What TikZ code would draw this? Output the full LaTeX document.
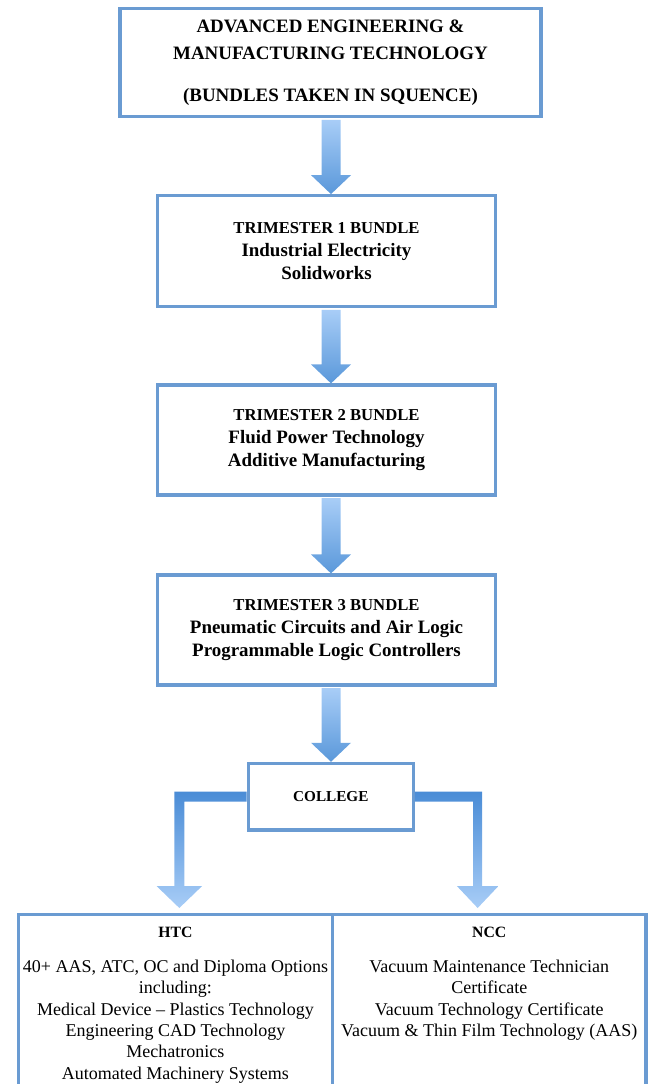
\documentclass[tikz,border=0pt]{standalone}
\usepackage{fontspec}
\setmainfont{Liberation Serif}
\usepackage{tikz}
\usetikzlibrary{calc}

\definecolor{boxline}{HTML}{6A9BD2}
\definecolor{arrlight}{HTML}{A8CDF7}
\definecolor{arrdark}{HTML}{5A98DA}
\definecolor{arrdeep}{HTML}{4A8CD6}

% heading size inside the bundle boxes
\newcommand{\hd}{\fontsize{12.5}{17.25}\selectfont}

% straight block arrow from one box down to the next
\newcommand{\downblk}[2]{%
  \coordinate (s) at (axis |- #1.south);
  \coordinate (e) at (axis |- #2.north);
  \shade[top color=arrlight, bottom color=arrdark]
    ($(s)+(-9.5,1.5)$) -- ($(s)+(9.5,1.5)$) -- ($(e)+(9.5,-19)$) -- ($(e)+(20,-19)$)
    -- (e) -- ($(e)+(-20,-19)$) -- ($(e)+(-9.5,-19)$) -- cycle;
}

\begin{document}
\begin{tikzpicture}[x=0.75pt, y=-0.75pt,
    box/.style={draw=boxline, line width=2.4pt, fill=white, align=center, inner sep=0pt,
      font=\bfseries\fontsize{14.2}{17.25}\selectfont},
    cell/.style={draw=boxline, line width=2.4pt, inner sep=0pt, minimum height=150pt},
    celltext/.style={align=center, inner sep=0pt, anchor=north,
      font=\fontsize{13.5}{16.05}\selectfont}]
                \useasboundingbox (0,0) rectangle (650,1084);
                \clip (0,0) rectangle (650,1084);
                \coordinate (axis) at (331,0);
                
                % Boxes
                \node[box, minimum width=315.75pt, minimum height=81.3pt,
                  font=\bfseries\fontsize{14.2}{20.25}\selectfont] (top) at (330.5,62.5)
                  {ADVANCED ENGINEERING \&\\MANUFACTURING TECHNOLOGY\\[11.25pt](BUNDLES TAKEN IN SQUENCE)};
                \node[box, minimum width=253.8pt, minimum height=83.25pt] (tri1) at (326.5,251.2)
                  {{\hd TRIMESTER 1 BUNDLE}\\Industrial Electricity\\Solidworks};
                \node[box, minimum width=253.8pt, minimum height=82.5pt] (tri2) at (326.5,440)
                  {{\hd TRIMESTER 2 BUNDLE}\\Fluid Power Technology\\Additive Manufacturing};
                \node[box, minimum width=253.8pt, minimum height=82.5pt] (tri3) at (326.5,630)
                  {{\hd TRIMESTER 3 BUNDLE}\\Pneumatic Circuits and Air Logic\\Programmable Logic Controllers};
                \node[box, minimum width=123.75pt, minimum height=50pt,
                  font=\bfseries\fontsize{11.4}{14}\selectfont] (coll) at (330.8,796.7) {COLLEGE};
                
                % Table at the bottom
                \node[cell, minimum width=235.7pt, anchor=north west] (htc) at (16.7,912.5) {};
                \node[cell, minimum width=235pt, anchor=north west] (ncc) at (331,912.5) {};
                
                % Arrows
                \downblk{top}{tri1}
                \downblk{tri1}{tri2}
                \downblk{tri2}{tri3}
                \downblk{tri3}{coll}
                
                % Branches to the colleges
                \coordinate (tipL) at ($(htc.north)+(3.9,-4.5)$);
                \coordinate (tipR) at ($(ncc.north)+(-11.6,-4.5)$);
                \shade[top color=arrdeep, bottom color=arrlight]
                  ($(coll.west)+(0,-5)$) -- ($(tipL |- coll.west)+(-5,-5)$) -- ($(tipL)+(-5,-22)$)
                  -- ($(tipL)+(-22.8,-22)$) -- (tipL) -- ($(tipL)+(22.8,-22)$) -- ($(tipL)+(5,-22)$)
                  -- ($(tipL |- coll.west)+(5,5)$) -- ($(coll.west)+(0,5)$) -- cycle;
                \shade[top color=arrdeep, bottom color=arrlight]
                  ($(coll.east)+(0,-5)$) -- ($(tipR |- coll.east)+(4.5,-5)$) -- ($(tipR)+(4.5,-22)$)
                  -- ($(tipR)+(20.8,-22)$) -- (tipR) -- ($(tipR)+(-20.8,-22)$) -- ($(tipR)+(-4.5,-22)$)
                  -- ($(tipR |- coll.east)+(-4.5,5)$) -- ($(coll.east)+(0,5)$) -- cycle;
                
                % Labels
                \node[celltext] (htctext) at ($(htc.north)+(0,14.3)$)
                  {{\bfseries\fontsize{11.8}{16.05}\selectfont HTC}\\[10pt]
                   40+ AAS, ATC, OC and Diploma Options\\including:\\
                   Medical Device \textendash\ Plastics Technology\\Engineering CAD Technology\\
                   Mechatronics\\Automated Machinery Systems};
                \node[celltext] (ncctext) at ($(ncc.north)+(0,14.3)$)
                  {{\bfseries\fontsize{11.8}{16.05}\selectfont NCC}\\[10pt]
                   Vacuum Maintenance Technician\\Certificate\\
                   Vacuum Technology Certificate\\Vacuum \& Thin Film Technology (AAS)};
            \end{tikzpicture}
\end{document}
